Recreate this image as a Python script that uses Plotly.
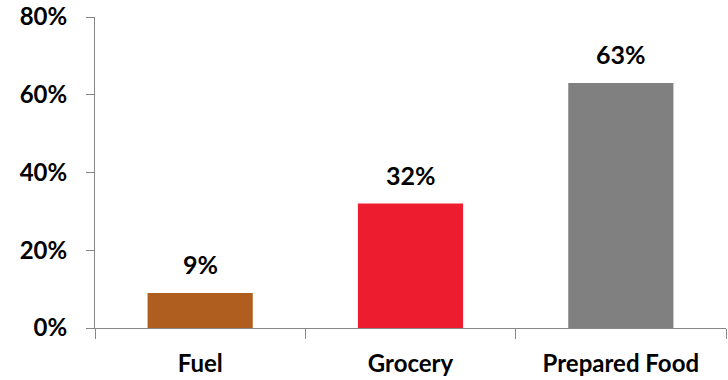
import plotly.graph_objects as go

categories = ["Fuel", "Grocery", "Prepared Food"]
shares = [0.09, 0.32, 0.63]
bar_colors = ["#B05E1F", "#ED1C2E", "#808080"]
y_ticks = [0, 0.2, 0.4, 0.6, 0.8]

font_family = "Lato, 'Open Sans', sans-serif"
axis_color = "#878787"

fig = go.Figure(
    go.Bar(
        x=categories,
        y=shares,
        marker=dict(color=bar_colors, line=dict(width=0)),
        hoverinfo="skip",
    )
)

# value labels above each bar
for cat, val in zip(categories, shares):
    fig.add_annotation(
        x=cat, y=val, text=f"<b>{val:.0%}</b>",
        showarrow=False, yanchor="bottom", yshift=12,
        font=dict(family=font_family, size=25, color="#000000"),
    )

fig.update_layout(
    width=728, height=380,
    margin=dict(l=95, r=2, t=17, b=52),
    paper_bgcolor="white", plot_bgcolor="white",
    bargap=0.5,
    showlegend=False,
    font=dict(family=font_family, size=24, color="#000000"),
)

fig.update_xaxes(
    showline=True, linecolor=axis_color, linewidth=1,
    ticks="outside", tickson="boundaries", ticklen=10,
    tickcolor=axis_color, tickwidth=1,
    ticklabelstandoff=14,
    tickfont=dict(family=font_family, size=24, color="#000000", weight="bold"),
    showgrid=False, zeroline=False,
)

fig.update_yaxes(
    range=[0, 0.8], tickvals=y_ticks, tickformat=".0%",
    showline=True, linecolor=axis_color, linewidth=1,
    ticks="outside", ticklen=8, tickcolor=axis_color, tickwidth=1,
    ticklabelstandoff=14,
    tickfont=dict(family=font_family, size=24, color="#000000", weight="bold"),
    showgrid=False, zeroline=False,
)

fig.write_html("out.html")
